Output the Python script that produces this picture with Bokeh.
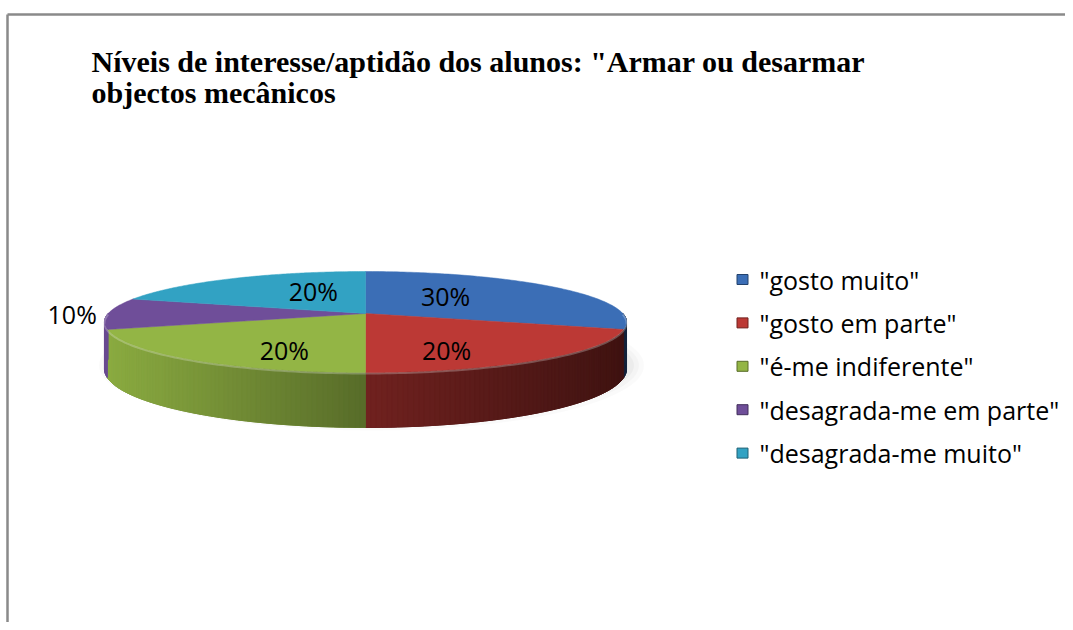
import numpy as np
from bokeh.plotting import figure
from bokeh.models import Range1d, ColumnDataSource
from bokeh.core.properties import value
from bokeh.embed import file_html
from bokeh.resources import INLINE

# ---------------- data ----------------
title_lines = ['Níveis de interesse/aptidão dos alunos: "Armar ou desarmar',
               'objectos mecânicos']
categories = ['"gosto muito"', '"gosto em parte"', '"é-me indiferente"',
              '"desagrada-me em parte"', '"desagrada-me muito"']
values = [30, 20, 20, 10, 20]
pct_labels = ["30%", "20%", "20%", "10%", "20%"]
colors = ["#3b6eb6", "#bc3935", "#93b545", "#6f4e99", "#32a2c3"]

# ---------------- figure (pixel-like coordinates, y downwards) ----------------
W, H = 1065, 622
p = figure(width=W, height=H, x_range=Range1d(0, W), y_range=Range1d(H, 0),
           output_backend="svg", toolbar_location=None, min_border=0,
           x_axis_location=None, y_axis_location=None)
p.grid.visible = False
p.outline_line_color = None
p.background_fill_color = "white"
p.border_fill_color = "white"

# chart-area frame (top and left edges)
p.segment(x0=[7, 7], y0=[14, 14], x1=[W, 7], y1=[14, H],
          line_color="#8a8a8a", line_width=2.5)

# ---------------- title ----------------
p.text(x=[91, 91], y=[61, 92], text=title_lines, text_font=value("Liberation Serif"),
       text_font_style="bold", text_font_size="30px", text_color="black",
       text_baseline="alphabetic", text_align="left")

# ---------------- 3D pie geometry (perspective projection of a disk) ----------------
cx, cy = 365.0, 313.0      # projected centre of the disk
A, Q, K = 257.3, 49.07, 0.1683
D = 45.7                   # thickness


def proj(u, v):
    den = 1.0 + K * v
    return cx + A * u / den, cy - Q * v / den


def depth(v):
    return D / (1.0 + K * v)


def shade(hexcol, f):
    h = hexcol.lstrip("#")
    r, g, b = (int(h[i:i + 2], 16) for i in (0, 2, 4))
    return "#%02x%02x%02x" % (min(255, int(r * f)), min(255, int(g * f)), min(255, int(b * f)))


total = float(sum(values))
cum = np.concatenate([[0.0], np.cumsum(values)])
t_start = 90.0 - 360.0 * cum[:-1] / total
t_end = 90.0 - 360.0 * cum[1:] / total

# soft shadow
for w_, h_, a_ in [(545, 130, 0.018), (535, 120, 0.025), (525, 110, 0.03)]:
    p.ellipse(x=[cx + 6], y=[cy + 52], width=w_, height=h_,
              fill_color="black", fill_alpha=a_, line_color=None)


def shade_f(x):
    return np.interp(x, [cx - A, cx, cx + A], [0.95, 0.6, 0.34])


# sides (visible front half): a base polygon plus gradient strips on top
base_xs, base_ys, base_cols = [], [], []
side_xs, side_ys, side_cols = [], [], []
for i in range(len(values)):
    lo, hi = t_end[i], t_start[i]
    for m in (-1, 0, 1):
        a0, a1 = max(lo, -180 + 360 * m), min(hi, 0 + 360 * m)
        if a1 - a0 <= 1e-9:
            continue
        n = max(2, int(np.ceil((a1 - a0) / 1.0)) + 1)
        th = np.radians(np.linspace(a0, a1, n))
        uu, vv = np.cos(th), np.sin(th)
        tx, ty = proj(uu, vv)
        by = ty + depth(vv)
        base_xs.append(list(tx) + list(tx[::-1]))
        base_ys.append(list(ty) + list(by[::-1]))
        base_cols.append(shade(colors[i], float(shade_f(tx.mean()))))
        for j in range(n - 1):
            side_xs.append([tx[j], tx[j + 1], tx[j + 1], tx[j]])
            side_ys.append([ty[j], ty[j + 1], by[j + 1], by[j]])
            side_cols.append(shade(colors[i], float(shade_f(0.5 * (tx[j] + tx[j + 1])))))
p.patches(xs="xs", ys="ys", fill_color="c", line_color="c", line_width=1,
          source=ColumnDataSource(dict(xs=base_xs, ys=base_ys, c=base_cols)))
p.patches(xs="xs", ys="ys", fill_color="c", line_color="c", line_width=0.8,
          source=ColumnDataSource(dict(xs=side_xs, ys=side_ys, c=side_cols)))

# top faces
top_xs, top_ys = [], []
for i in range(len(values)):
    th = np.radians(np.linspace(t_start[i], t_end[i], 120))
    px, py = proj(np.cos(th), np.sin(th))
    top_xs.append([cx] + list(px))
    top_ys.append([cy] + list(py))
p.patches(xs="xs", ys="ys", fill_color="c", line_color="c", line_width=0.5,
          source=ColumnDataSource(dict(xs=top_xs, ys=top_ys, c=colors)))

# light bevel along the front rim
for i in range(len(values)):
    lo, hi = max(t_end[i], -180), min(t_start[i], 0)
    if hi - lo <= 0:
        continue
    th = np.radians(np.linspace(lo, hi, 60))
    px, py = proj(np.cos(th), np.sin(th))
    p.line(px, py + 1.0, line_color="white", line_alpha=0.25, line_width=2)

# percentage labels
lab_x, lab_y = [], []
for i in range(len(values)):
    mid = np.radians(0.5 * (t_start[i] + t_end[i]))
    u, v = np.cos(mid), np.sin(mid)
    if values[i] / total < 0.15:
        x, y = proj(1.14 * u, 1.14 * v)
    else:
        r = 0.5 - 0.17 * max(v, 0)
        x, y = proj(r * u, r * v)
        y += 0.4 * D * max(0.0, -v) - 11 * max(0.0, v)
    lab_x.append(x)
    lab_y.append(y)
p.text(x=lab_x, y=lab_y, text=pct_labels, text_font=value("Open Sans"),
       text_font_size="25px", text_color="black", text_align="center",
       text_baseline="middle")

# ---------------- legend ----------------
leg_y = [279 + 43.4 * i for i in range(len(categories))]
p.rect(x=[742] * len(categories), y=leg_y, width=11, height=10,
       fill_color=colors, line_color=[shade(c, 0.6) for c in colors], line_width=1)
p.text(x=[759] * len(categories), y=leg_y, text=categories, text_font=value("Open Sans"),
       text_font_size="25px", text_color="black", text_align="left",
       text_baseline="middle")

open("out.html", "w").write(file_html(p, INLINE))
